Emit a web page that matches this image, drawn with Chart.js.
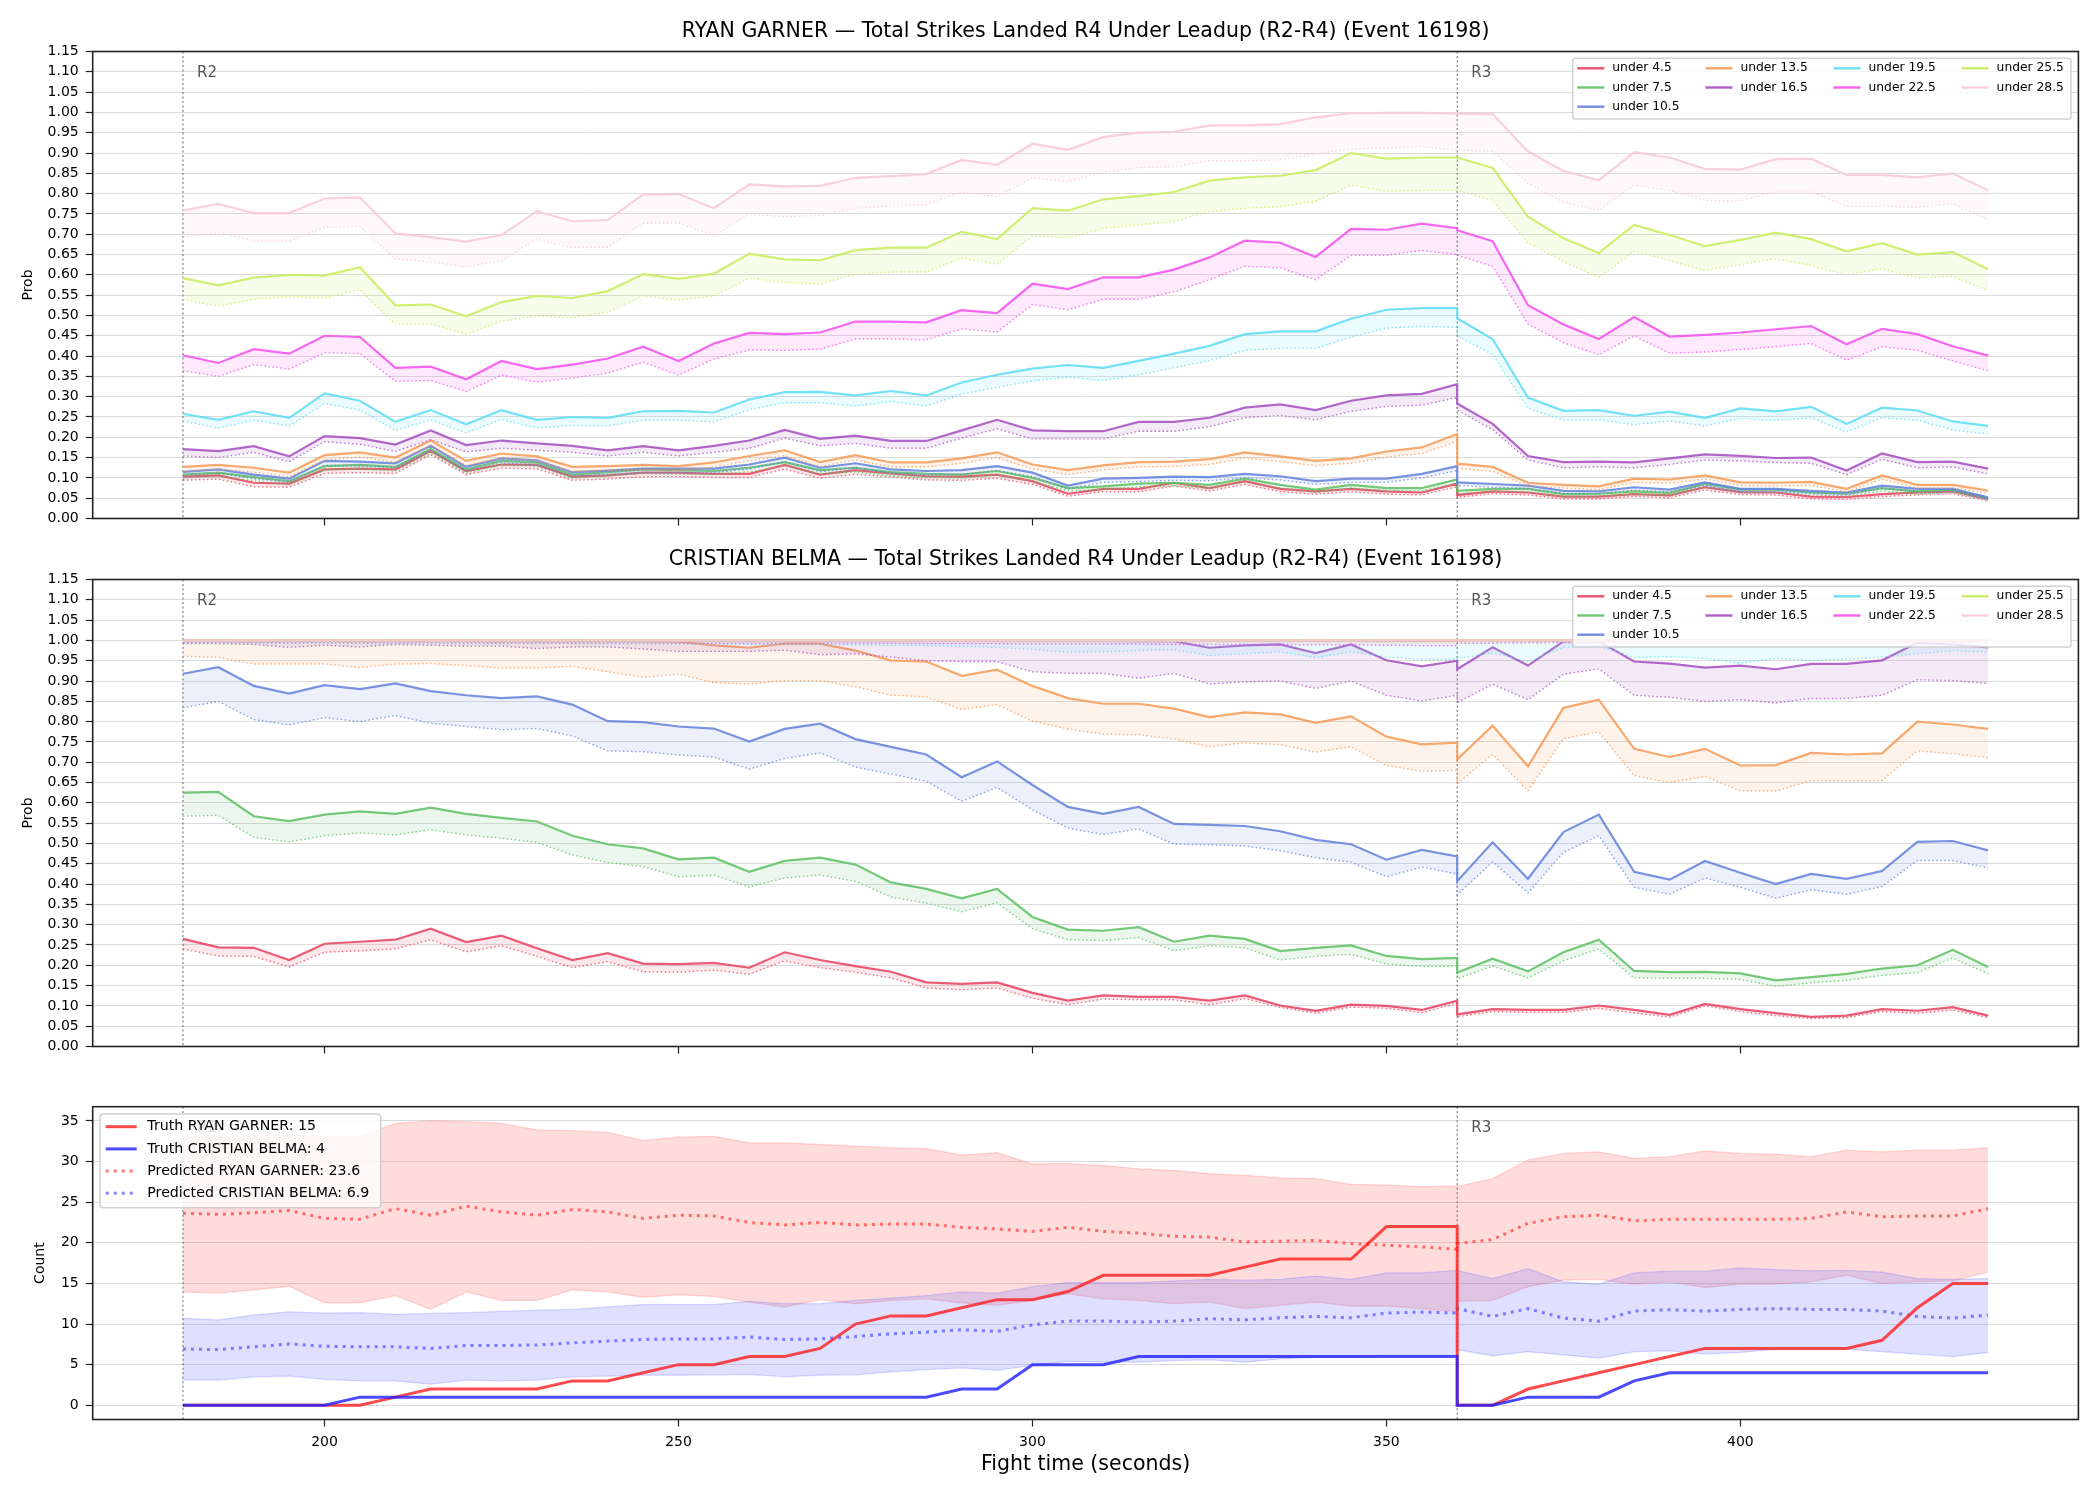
<!DOCTYPE html>
<html>
<head>
<meta charset="utf-8">
<script src="https://cdn.jsdelivr.net/npm/chart.js@4.4.1/dist/chart.umd.min.js"></script>
<style>
  html, body { margin: 0; padding: 0; background: #fff; }
  #wrap { position: relative; width: 2100px; height: 1500px; }
  #wrap canvas { position: absolute; left: 0; top: 0; }
</style>
</head>
<body>
<div id="wrap">
  <canvas id="c1" width="2100" height="1500"></canvas>
  <canvas id="c2" width="2100" height="1500"></canvas>
  <canvas id="c3" width="2100" height="1500"></canvas>
</div>
<script>
// fight time (s); R2 runs 180-360, R3 restarts at 360
var times = [180,185,190,195,200,205,210,215,220,225,230,235,240,245,250,255,260,265,270,275,280,285,290,295,300,305,310,315,320,325,330,335,340,345,350,355,360,
             360,365,370,375,380,385,390,395,400,405,410,415,420,425,430,435];
var timeTicks = [200,250,300,350,400];
var probTicks = [0,0.05,0.1,0.15,0.2,0.25,0.3,0.35,0.4,0.45,0.5,0.55,0.6,0.65,0.7,0.75,0.8,0.85,0.9,0.95,1,1.05,1.1,1.15];
var countTicks = [0,5,10,15,20,25,30,35];
var roundTimes = [180, 360];
var roundLabels = ['R2', 'R3'];

var lineNames = ['under 4.5','under 7.5','under 10.5','under 13.5','under 16.5','under 19.5','under 22.5','under 25.5','under 28.5'];
var lineColors = ['#e8405e','#5cbf60','#6280dc','#f79a56','#a44cc0','#5cdcf4','#f54ef0','#c8ec5a','#f8c8d6'];

// ---- RYAN GARNER: solid = upper, Lo = dotted lower ----
var garnerU4 = [0.103,0.106,0.088,0.086,0.121,0.123,0.121,0.167,0.117,0.133,0.132,0.103,0.106,0.113,0.113,0.110,0.110,0.132,0.108,0.119,0.111,0.104,0.103,0.108,0.092,0.061,0.073,0.073,0.088,0.075,0.092,0.073,0.067,0.073,0.067,0.064,0.086,
  0.058,0.067,0.064,0.054,0.054,0.060,0.057,0.077,0.065,0.064,0.054,0.053,0.060,0.064,0.067,0.048];
var garnerU4Lo = [0.094,0.097,0.078,0.077,0.111,0.113,0.111,0.157,0.108,0.124,0.122,0.094,0.097,0.103,0.103,0.101,0.101,0.122,0.099,0.109,0.102,0.095,0.094,0.099,0.084,0.055,0.066,0.066,0.080,0.068,0.084,0.066,0.060,0.066,0.060,0.058,0.078,
  0.052,0.061,0.058,0.048,0.048,0.054,0.051,0.070,0.059,0.058,0.048,0.047,0.054,0.058,0.061,0.043];
var garnerU7 = [0.108,0.113,0.102,0.092,0.129,0.132,0.127,0.171,0.121,0.142,0.138,0.108,0.114,0.121,0.119,0.117,0.125,0.139,0.119,0.125,0.114,0.110,0.108,0.117,0.100,0.075,0.079,0.086,0.088,0.083,0.098,0.083,0.071,0.083,0.075,0.075,0.096,
  0.068,0.073,0.073,0.060,0.061,0.067,0.063,0.085,0.071,0.071,0.064,0.061,0.075,0.067,0.071,0.050];
var garnerU7Lo = [0.099,0.104,0.093,0.083,0.119,0.122,0.117,0.160,0.112,0.132,0.128,0.099,0.105,0.111,0.109,0.108,0.115,0.129,0.110,0.115,0.105,0.101,0.099,0.107,0.091,0.068,0.071,0.078,0.080,0.075,0.089,0.075,0.064,0.075,0.068,0.068,0.087,
  0.061,0.066,0.066,0.054,0.055,0.060,0.057,0.077,0.064,0.064,0.058,0.055,0.068,0.060,0.064,0.045];
var garnerU10 = [0.115,0.121,0.108,0.098,0.142,0.140,0.136,0.179,0.127,0.148,0.143,0.114,0.118,0.123,0.123,0.123,0.133,0.150,0.125,0.136,0.121,0.117,0.119,0.129,0.113,0.081,0.098,0.100,0.103,0.102,0.110,0.104,0.092,0.098,0.098,0.110,0.129,
  0.089,0.085,0.081,0.068,0.067,0.077,0.071,0.089,0.073,0.073,0.068,0.064,0.081,0.073,0.073,0.052];
var garnerU10Lo = [0.105,0.111,0.098,0.089,0.131,0.129,0.125,0.167,0.117,0.137,0.132,0.104,0.108,0.113,0.113,0.113,0.122,0.139,0.115,0.125,0.111,0.107,0.109,0.118,0.103,0.073,0.089,0.091,0.094,0.093,0.100,0.095,0.084,0.089,0.089,0.100,0.118,
  0.081,0.077,0.074,0.062,0.061,0.070,0.065,0.081,0.066,0.066,0.062,0.058,0.074,0.066,0.066,0.047];
var garnerU13 = [0.127,0.132,0.125,0.113,0.156,0.163,0.150,0.192,0.142,0.160,0.153,0.127,0.129,0.132,0.129,0.138,0.154,0.168,0.139,0.156,0.138,0.138,0.148,0.163,0.133,0.119,0.131,0.139,0.140,0.146,0.163,0.153,0.142,0.148,0.165,0.175,0.208,
  0.135,0.127,0.088,0.083,0.079,0.098,0.096,0.106,0.089,0.088,0.090,0.073,0.106,0.083,0.083,0.069];
var garnerU13Lo = [0.116,0.121,0.114,0.103,0.144,0.151,0.139,0.179,0.131,0.148,0.141,0.116,0.118,0.121,0.118,0.127,0.142,0.155,0.128,0.144,0.127,0.127,0.136,0.150,0.122,0.108,0.120,0.127,0.128,0.133,0.149,0.140,0.130,0.136,0.151,0.160,0.190,
  0.124,0.116,0.080,0.075,0.071,0.089,0.087,0.097,0.081,0.080,0.082,0.066,0.097,0.075,0.075,0.062];
var garnerU16 = [0.171,0.166,0.178,0.153,0.203,0.198,0.182,0.217,0.181,0.192,0.185,0.179,0.168,0.178,0.168,0.179,0.192,0.218,0.196,0.204,0.191,0.191,0.217,0.243,0.217,0.215,0.215,0.238,0.238,0.248,0.273,0.281,0.267,0.290,0.303,0.307,0.331,
  0.283,0.233,0.154,0.139,0.140,0.138,0.148,0.158,0.154,0.149,0.150,0.118,0.160,0.139,0.140,0.123];
var garnerU16Lo = [0.154,0.150,0.163,0.140,0.189,0.183,0.165,0.194,0.164,0.173,0.168,0.163,0.154,0.163,0.154,0.163,0.173,0.198,0.179,0.185,0.173,0.173,0.198,0.221,0.196,0.196,0.196,0.215,0.215,0.226,0.248,0.254,0.243,0.264,0.276,0.279,0.298,
  0.267,0.219,0.144,0.125,0.127,0.125,0.133,0.144,0.142,0.138,0.136,0.108,0.146,0.125,0.127,0.110];
var garnerU19 = [0.258,0.243,0.264,0.248,0.308,0.290,0.238,0.267,0.232,0.267,0.243,0.250,0.248,0.264,0.265,0.261,0.293,0.311,0.312,0.303,0.314,0.303,0.335,0.354,0.369,0.378,0.371,0.388,0.406,0.425,0.454,0.461,0.461,0.492,0.514,0.518,0.518,
  0.493,0.442,0.298,0.265,0.267,0.253,0.263,0.248,0.271,0.264,0.275,0.233,0.273,0.266,0.239,0.228];
var garnerU19Lo = [0.240,0.223,0.242,0.228,0.283,0.267,0.217,0.243,0.211,0.244,0.223,0.229,0.228,0.242,0.242,0.238,0.268,0.285,0.285,0.277,0.288,0.277,0.306,0.323,0.339,0.348,0.340,0.354,0.371,0.389,0.414,0.419,0.419,0.446,0.469,0.473,0.471,
  0.450,0.404,0.271,0.243,0.243,0.231,0.240,0.228,0.246,0.242,0.248,0.213,0.248,0.242,0.218,0.208];
var garnerU22 = [0.402,0.383,0.417,0.406,0.450,0.447,0.371,0.374,0.343,0.388,0.368,0.379,0.394,0.423,0.388,0.431,0.457,0.454,0.458,0.485,0.485,0.483,0.513,0.506,0.578,0.565,0.594,0.594,0.613,0.643,0.684,0.679,0.644,0.713,0.711,0.726,0.715,
  0.710,0.683,0.525,0.478,0.442,0.496,0.448,0.452,0.458,0.466,0.474,0.429,0.467,0.454,0.424,0.401];
var garnerU22Lo = [0.364,0.350,0.379,0.368,0.408,0.406,0.338,0.340,0.313,0.353,0.336,0.346,0.358,0.385,0.353,0.393,0.415,0.414,0.417,0.442,0.442,0.440,0.467,0.459,0.527,0.514,0.540,0.540,0.558,0.588,0.621,0.617,0.588,0.648,0.648,0.660,0.650,
  0.648,0.621,0.479,0.433,0.403,0.450,0.407,0.410,0.416,0.423,0.431,0.390,0.423,0.414,0.388,0.364];
var garnerU25 = [0.592,0.574,0.593,0.600,0.598,0.619,0.525,0.527,0.498,0.533,0.548,0.543,0.560,0.602,0.590,0.603,0.652,0.638,0.636,0.661,0.667,0.667,0.706,0.688,0.764,0.758,0.786,0.794,0.804,0.832,0.840,0.844,0.858,0.900,0.886,0.889,0.889,
  0.889,0.863,0.743,0.690,0.654,0.723,0.698,0.671,0.686,0.704,0.688,0.658,0.678,0.650,0.656,0.614];
var garnerU25Lo = [0.539,0.523,0.540,0.546,0.543,0.563,0.478,0.479,0.454,0.485,0.499,0.494,0.508,0.548,0.538,0.548,0.592,0.581,0.578,0.601,0.607,0.607,0.641,0.626,0.696,0.691,0.714,0.723,0.732,0.756,0.764,0.768,0.781,0.821,0.806,0.808,0.808,
  0.808,0.783,0.679,0.633,0.594,0.658,0.635,0.611,0.625,0.640,0.623,0.600,0.615,0.592,0.596,0.561];
var garnerU28 = [0.758,0.775,0.752,0.752,0.788,0.791,0.702,0.693,0.682,0.698,0.757,0.732,0.735,0.798,0.799,0.764,0.823,0.818,0.819,0.839,0.843,0.848,0.883,0.871,0.923,0.908,0.939,0.950,0.952,0.968,0.968,0.971,0.988,0.998,0.999,0.999,0.997,
  0.997,0.996,0.904,0.856,0.833,0.902,0.889,0.861,0.859,0.885,0.886,0.846,0.846,0.840,0.850,0.808];
var garnerU28Lo = [0.692,0.704,0.683,0.683,0.717,0.719,0.639,0.632,0.619,0.635,0.688,0.667,0.668,0.727,0.728,0.696,0.749,0.743,0.746,0.764,0.769,0.773,0.803,0.792,0.839,0.829,0.853,0.864,0.866,0.881,0.881,0.883,0.898,0.910,0.912,0.916,0.907,
  0.907,0.904,0.825,0.779,0.758,0.821,0.808,0.783,0.782,0.804,0.804,0.769,0.769,0.766,0.775,0.736];

// ---- CRISTIAN BELMA ----
var belmaU4 = [0.265,0.244,0.243,0.213,0.253,0.258,0.263,0.290,0.257,0.273,0.242,0.213,0.230,0.204,0.203,0.206,0.194,0.232,0.213,0.198,0.184,0.158,0.154,0.158,0.132,0.113,0.126,0.122,0.122,0.113,0.126,0.101,0.088,0.103,0.100,0.090,0.113,
  0.079,0.092,0.090,0.090,0.101,0.090,0.078,0.105,0.092,0.082,0.073,0.076,0.092,0.088,0.097,0.076];
var belmaU4Lo = [0.240,0.223,0.222,0.196,0.232,0.236,0.240,0.263,0.233,0.248,0.222,0.194,0.209,0.184,0.183,0.188,0.178,0.211,0.194,0.183,0.169,0.144,0.140,0.144,0.119,0.103,0.117,0.115,0.115,0.103,0.118,0.096,0.082,0.097,0.094,0.083,0.107,
  0.073,0.086,0.084,0.084,0.094,0.083,0.072,0.100,0.086,0.076,0.069,0.071,0.086,0.082,0.090,0.071];
var belmaU7 = [0.625,0.627,0.567,0.555,0.571,0.579,0.573,0.588,0.573,0.563,0.554,0.519,0.498,0.488,0.461,0.465,0.430,0.457,0.465,0.448,0.404,0.388,0.365,0.388,0.319,0.288,0.285,0.294,0.258,0.273,0.265,0.235,0.243,0.249,0.223,0.215,0.218,
  0.182,0.216,0.185,0.232,0.263,0.186,0.183,0.184,0.180,0.163,0.171,0.179,0.192,0.200,0.238,0.196];
var belmaU7Lo = [0.567,0.569,0.515,0.504,0.519,0.526,0.521,0.534,0.521,0.513,0.503,0.472,0.453,0.443,0.418,0.422,0.393,0.415,0.422,0.407,0.368,0.353,0.332,0.354,0.290,0.263,0.261,0.268,0.236,0.248,0.243,0.213,0.222,0.227,0.203,0.197,0.198,
  0.167,0.198,0.169,0.211,0.240,0.169,0.168,0.168,0.165,0.148,0.157,0.163,0.175,0.182,0.218,0.179];
var belmaU10 = [0.918,0.934,0.888,0.869,0.890,0.880,0.894,0.875,0.865,0.858,0.862,0.842,0.801,0.799,0.788,0.783,0.751,0.782,0.795,0.757,0.738,0.719,0.663,0.702,0.644,0.590,0.573,0.590,0.548,0.546,0.543,0.530,0.509,0.498,0.460,0.484,0.468,
  0.407,0.503,0.413,0.528,0.571,0.430,0.411,0.457,0.428,0.400,0.425,0.413,0.432,0.504,0.506,0.483];
var belmaU10Lo = [0.834,0.850,0.805,0.792,0.810,0.800,0.815,0.796,0.788,0.780,0.783,0.765,0.728,0.726,0.718,0.713,0.683,0.709,0.723,0.688,0.671,0.653,0.604,0.638,0.583,0.538,0.522,0.536,0.498,0.497,0.494,0.482,0.465,0.454,0.418,0.442,0.425,
  0.373,0.455,0.378,0.478,0.519,0.392,0.375,0.415,0.392,0.365,0.386,0.375,0.394,0.458,0.458,0.440];
var belmaU13 = [0.999,0.999,0.998,0.999,0.999,0.998,0.999,0.999,0.999,0.998,0.998,0.999,0.998,0.998,0.997,0.988,0.982,0.992,0.992,0.975,0.951,0.948,0.913,0.928,0.888,0.858,0.844,0.844,0.832,0.811,0.823,0.818,0.797,0.813,0.763,0.744,0.748,
  0.707,0.790,0.690,0.834,0.854,0.733,0.713,0.733,0.692,0.693,0.723,0.719,0.722,0.800,0.793,0.782];
var belmaU13Lo = [0.961,0.958,0.942,0.942,0.942,0.933,0.942,0.943,0.938,0.932,0.932,0.936,0.923,0.909,0.917,0.896,0.893,0.901,0.901,0.886,0.865,0.861,0.830,0.842,0.801,0.782,0.769,0.768,0.757,0.738,0.748,0.743,0.725,0.738,0.692,0.678,0.680,
  0.647,0.719,0.630,0.758,0.775,0.667,0.650,0.665,0.630,0.629,0.655,0.654,0.655,0.728,0.721,0.711];
var belmaU16 = [0.999,0.999,0.999,0.999,0.999,0.999,0.999,0.999,0.999,0.999,0.999,0.999,0.999,0.999,0.999,0.999,0.999,0.999,0.999,0.999,0.999,0.999,0.999,0.999,0.999,0.999,0.999,0.998,0.998,0.982,0.988,0.990,0.969,0.990,0.951,0.936,0.950,
  0.929,0.983,0.938,0.998,0.998,0.948,0.943,0.933,0.938,0.929,0.942,0.942,0.951,0.994,0.990,0.983];
var belmaU16Lo = [0.992,0.992,0.990,0.983,0.988,0.984,0.990,0.988,0.986,0.986,0.980,0.984,0.984,0.979,0.973,0.973,0.973,0.976,0.965,0.967,0.959,0.950,0.948,0.948,0.923,0.919,0.919,0.907,0.919,0.893,0.898,0.900,0.882,0.900,0.865,0.851,0.865,
  0.847,0.892,0.854,0.917,0.930,0.865,0.860,0.850,0.854,0.846,0.857,0.857,0.865,0.903,0.901,0.894];
var belmaU19 = [0.999,0.999,0.999,0.999,0.999,0.999,0.999,0.999,0.999,0.999,0.999,0.999,0.999,0.999,0.999,0.999,0.999,0.999,0.999,0.999,0.999,0.999,0.999,0.999,0.999,0.999,0.999,0.999,0.999,0.999,0.999,0.999,0.999,0.999,0.999,0.999,0.999,
  0.999,0.999,0.999,0.999,0.999,0.999,0.999,0.999,0.999,0.999,0.999,0.999,0.999,0.999,0.999,0.999];
var belmaU19Lo = [0.993,0.993,0.993,0.993,0.993,0.992,0.993,0.992,0.992,0.992,0.992,0.992,0.991,0.991,0.991,0.991,0.990,0.990,0.990,0.989,0.988,0.987,0.985,0.983,0.978,0.971,0.972,0.975,0.977,0.963,0.967,0.972,0.958,0.972,0.959,0.953,0.953,
  0.955,0.969,0.948,0.983,0.986,0.958,0.960,0.956,0.944,0.956,0.950,0.954,0.959,0.967,0.975,0.971];
var belmaU22 = [1.000,1.000,1.000,1.000,1.000,1.000,1.000,1.000,1.000,1.000,1.000,1.000,1.000,1.000,1.000,1.000,1.000,1.000,1.000,1.000,1.000,1.000,1.000,1.000,1.000,1.000,1.000,1.000,1.000,1.000,1.000,1.000,0.999,1.000,0.999,0.999,0.999,
  1.000,1.000,1.000,1.000,1.000,1.000,1.000,1.000,1.000,1.000,1.000,1.000,1.000,1.000,1.000,1.000];
var belmaU22Lo = [0.995,0.995,0.995,0.994,0.995,0.995,0.995,0.995,0.995,0.994,0.994,0.994,0.994,0.994,0.993,0.993,0.993,0.993,0.993,0.993,0.993,0.992,0.992,0.992,0.991,0.991,0.991,0.991,0.990,0.990,0.990,0.990,0.989,0.989,0.988,0.987,0.987,
  0.993,0.993,0.994,0.995,0.995,0.994,0.994,0.994,0.994,0.994,0.994,0.994,0.994,0.995,0.995,0.995];
var belmaU25 = [1.000,1.000,1.000,1.000,1.000,1.000,1.000,1.000,1.000,1.000,1.000,1.000,1.000,1.000,1.000,1.000,1.000,1.000,1.000,1.000,1.000,1.000,1.000,1.000,1.000,1.000,1.000,1.000,1.000,1.000,1.000,1.000,1.000,1.000,1.000,1.000,1.000,
  1.000,1.000,1.000,1.000,1.000,1.000,1.000,1.000,1.000,1.000,1.000,1.000,1.000,1.000,1.000,1.000];
var belmaU25Lo = [0.997,0.997,0.997,0.997,0.997,0.997,0.997,0.997,0.997,0.997,0.997,0.997,0.997,0.997,0.997,0.997,0.997,0.997,0.997,0.997,0.997,0.997,0.997,0.996,0.996,0.996,0.996,0.996,0.996,0.996,0.996,0.996,0.996,0.996,0.995,0.995,0.995,
  0.997,0.997,0.997,0.998,0.998,0.997,0.997,0.997,0.997,0.997,0.997,0.997,0.997,0.997,0.998,0.998];
var belmaU28 = [1.000,1.000,1.000,1.000,1.000,1.000,1.000,1.000,1.000,1.000,1.000,1.000,1.000,1.000,1.000,1.000,1.000,1.000,1.000,1.000,1.000,1.000,1.000,1.000,1.000,1.000,1.000,1.000,1.000,1.000,1.000,1.000,1.000,1.000,1.000,1.000,1.000,
  1.000,1.000,1.000,1.000,1.000,1.000,1.000,1.000,1.000,1.000,1.000,1.000,1.000,1.000,1.000,1.000];
var belmaU28Lo = [0.998,0.998,0.998,0.998,0.998,0.998,0.998,0.998,0.998,0.998,0.998,0.998,0.998,0.998,0.998,0.998,0.998,0.998,0.998,0.998,0.998,0.998,0.998,0.998,0.998,0.998,0.998,0.998,0.998,0.998,0.998,0.998,0.998,0.998,0.998,0.997,0.997,
  0.998,0.998,0.998,0.999,0.999,0.998,0.998,0.998,0.998,0.998,0.998,0.998,0.998,0.998,0.999,0.999];

// ---- counts ----
var truthGarner = [0,0,0,0,0,0,1,2,2,2,2,3,3,4,5,5,6,6,7,10,11,11,12,13,13,14,16,16,16,16,17,18,18,18,22,22,22,
  0,0,2,3,4,5,6,7,7,7,7,7,8,12,15,15];
var truthBelma = [0,0,0,0,0,1,1,1,1,1,1,1,1,1,1,1,1,1,1,1,1,1,2,2,5,5,5,6,6,6,6,6,6,6,6,6,6,
  0,0,1,1,1,3,4,4,4,4,4,4,4,4,4,4];
var predGarner = [23.65,23.5,23.7,23.98,23.0,22.9,24.2,23.4,24.5,23.8,23.4,24.1,23.8,23.0,23.4,23.3,22.5,22.2,22.5,22.2,22.3,22.3,21.9,21.7,21.4,21.9,21.4,21.2,20.8,20.7,20.1,20.2,20.3,19.9,19.7,19.5,19.2,
  19.9,20.4,22.4,23.2,23.4,22.7,22.9,22.9,22.9,22.9,23.0,23.8,23.2,23.3,23.3,24.2];
var garnerHigh = [33.0,33.1,33.2,33.3,33.1,33.1,34.7,35.0,34.9,34.7,33.9,33.8,33.6,32.6,33.0,33.1,32.3,32.3,32.1,31.9,31.7,31.6,30.8,31.1,29.7,29.75,29.5,29.1,28.9,28.5,28.3,28.0,27.9,27.2,27.1,26.9,27.0,
  26.9,27.9,30.2,31.0,31.2,30.4,30.6,31.3,31.0,30.9,30.6,31.4,31.2,31.4,31.4,31.7];
var garnerLow = [13.95,13.8,14.2,14.65,12.6,12.6,13.5,11.8,13.95,12.9,12.9,14.2,13.95,13.3,13.6,13.4,12.7,12.1,13.0,12.5,12.9,13.1,12.6,12.3,12.9,13.7,13.1,12.9,12.5,12.7,11.9,12.3,12.7,12.2,12.2,11.9,11.5,
  12.8,12.9,14.6,15.4,15.5,14.9,15.2,14.5,14.9,14.9,15.2,16.0,15.0,15.2,15.3,16.4];
var predBelma = [6.93,6.85,7.2,7.55,7.26,7.2,7.2,7.0,7.35,7.35,7.43,7.68,7.9,8.1,8.17,8.17,8.4,8.1,8.17,8.46,8.8,9.0,9.3,9.1,9.9,10.36,10.36,10.23,10.36,10.65,10.52,10.77,10.94,10.77,11.35,11.47,11.35,
  11.9,10.94,11.9,10.73,10.36,11.6,11.76,11.6,11.8,11.9,11.8,11.8,11.6,10.94,10.73,11.1];
var belmaHigh = [10.7,10.5,11.1,11.5,11.35,11.4,11.2,11.3,11.4,11.55,11.7,11.8,12.1,12.4,12.4,12.4,12.8,12.5,12.5,12.9,13.2,13.5,13.95,13.8,14.6,15.1,15.1,15.1,15.3,15.5,15.4,15.5,15.9,15.5,16.3,16.3,16.6,
  16.6,15.6,16.8,15.2,14.9,16.3,16.5,16.5,16.9,16.7,16.55,16.6,16.4,15.6,15.5,15.6];
var belmaLow = [3.1,3.1,3.5,3.6,3.2,3.0,3.0,2.6,3.1,3.0,3.1,3.5,3.6,3.7,3.7,3.75,3.8,3.5,3.7,3.75,4.1,4.4,4.6,4.3,4.9,5.4,5.3,5.3,5.5,5.6,5.3,5.7,5.9,5.9,6.1,6.1,6.1,
  6.85,6.1,6.6,6.2,5.8,6.6,6.7,6.3,6.5,6.9,6.9,6.9,6.6,6.3,6.0,6.5];

var countLegend = ['Truth RYAN GARNER: 15', 'Truth CRISTIAN BELMA: 4', 'Predicted RYAN GARNER: 23.6', 'Predicted CRISTIAN BELMA: 6.9'];

Chart.defaults.font.family = '"DejaVu Sans", sans-serif';
Chart.defaults.color = '#000';

function rgba(hex, a) {
  var n = parseInt(hex.slice(1), 16);
  return 'rgba(' + ((n >> 16) & 255) + ',' + ((n >> 8) & 255) + ',' + (n & 255) + ',' + a + ')';
}

function pts(vals) {
  return times.map(function(t, i) { return { x: t, y: vals[i] }; });
}

function probDatasets(upper, lower) {
  var ds = [];
  for (var k = 0; k < upper.length; k++) {
    var base = (upper.length - 1 - k) * 2;
    ds.push({
      label: lineNames[k] + ' model', data: pts(lower[k]),
      borderColor: rgba(lineColors[k], 0.75), borderWidth: 1.4, borderDash: [1.5, 2.5],
      pointRadius: 0, fill: false, order: base + 1
    });
    ds.push({
      label: lineNames[k], data: pts(upper[k]),
      borderColor: rgba(lineColors[k], 0.85), borderWidth: 2.2,
      backgroundColor: rgba(lineColors[k], 0.12), fill: ds.length - 1,
      pointRadius: 0, order: base
    });
  }
  return ds;
}

function roundRect(ctx, x, y, w, h, r) {
  ctx.beginPath();
  ctx.moveTo(x + r, y);
  ctx.lineTo(x + w - r, y); ctx.arcTo(x + w, y, x + w, y + r, r);
  ctx.lineTo(x + w, y + h - r); ctx.arcTo(x + w, y + h, x + w - r, y + h, r);
  ctx.lineTo(x + r, y + h); ctx.arcTo(x, y + h, x, y + h - r, r);
  ctx.lineTo(x, y + r); ctx.arcTo(x, y, x + r, y, r);
  ctx.closePath();
}

function makeDeco(opts) {
  return {
    id: 'deco',
    beforeDatasetsDraw: function(chart) {
      var ctx = chart.ctx, area = chart.chartArea, xs = chart.scales.x;
      ctx.save();
      for (var i = 0; i < roundTimes.length; i++) {
        var px = xs.getPixelForValue(roundTimes[i]);
        ctx.strokeStyle = 'rgba(70,70,70,0.85)';
        ctx.lineWidth = 1;
        ctx.setLineDash([2, 2.5]);
        ctx.beginPath(); ctx.moveTo(px, area.top); ctx.lineTo(px, area.bottom); ctx.stroke();
        ctx.setLineDash([]);
        ctx.fillStyle = '#555';
        ctx.font = '15px "DejaVu Sans"';
        ctx.textAlign = 'left'; ctx.textBaseline = 'middle';
        ctx.fillText(roundLabels[i], px + 14, area.top + 21.5);
      }
      ctx.restore();
    },
    afterDatasetsDraw: function(chart) {
      var ctx = chart.ctx, area = chart.chartArea;
      ctx.save();
      ctx.strokeStyle = '#222'; ctx.lineWidth = 1.6;
      ctx.strokeRect(area.left, area.top, area.right - area.left, area.bottom - area.top);

      if (opts.title) {
        ctx.fillStyle = '#000';
        ctx.font = '20.5px "DejaVu Sans"';
        ctx.textAlign = 'center'; ctx.textBaseline = 'middle';
        ctx.fillText(opts.title, (area.left + area.right) / 2, area.top - 19.7);
      }

      var lg = opts.legend;
      roundRect(ctx, lg.x, area.top + lg.dy, lg.w, lg.h, 3);
      ctx.fillStyle = 'rgba(255,255,255,0.8)'; ctx.fill();
      ctx.strokeStyle = 'rgba(204,204,204,0.9)'; ctx.lineWidth = 1.5; ctx.stroke();
      ctx.font = lg.font + 'px "DejaVu Sans"';
      ctx.textAlign = 'left'; ctx.textBaseline = 'middle';
      lg.items.forEach(function(it) {
        var y = area.top + it.dy;
        ctx.strokeStyle = it.color; ctx.lineWidth = it.width;
        ctx.setLineDash(it.dash || []);
        ctx.beginPath(); ctx.moveTo(it.x, y); ctx.lineTo(it.x + lg.lineLen, y); ctx.stroke();
        ctx.setLineDash([]);
        ctx.fillStyle = '#000';
        ctx.fillText(it.text, it.x + lg.textGap, y);
      });
      ctx.restore();
    }
  };
}

var legendCol = [0, 0, 0, 1, 1, 2, 2, 3, 3];
var legendRow = [0, 1, 2, 0, 1, 0, 1, 0, 1];
function probLegend() {
  return {
    x: 1572.7, dy: 6.8, w: 498.3, h: 60.7, font: 12.3, lineLen: 27, textGap: 35,
    items: lineNames.map(function(n, k) {
      return { text: n, color: rgba(lineColors[k], 0.9), width: 2.4,
               x: 1577.3 + legendCol[k] * 128.1, dy: 16.8 + legendRow[k] * 19.2 };
    })
  };
}

function xScale(showLabels) {
  return {
    type: 'linear', min: 167.25, max: 447.75,
    afterBuildTicks: function(s) { s.ticks = timeTicks.map(function(v) { return { value: v }; }); },
    afterFit: function(s) { s.height = showLabels ? 60 : 20; },
    grid: { display: true, drawOnChartArea: false, drawTicks: true, tickLength: 7, tickColor: '#222', tickWidth: 1.2 },
    border: { display: false },
    ticks: { display: showLabels, padding: 7, font: { size: 14 }, color: '#000', autoSkip: false, maxRotation: 0 },
    title: showLabels ? { display: true, text: 'Fight time (seconds)', font: { size: 20.5 }, color: '#000', padding: { top: 0, bottom: 2.2 } } : { display: false }
  };
}

function yScale(min, max, tickVals, decimals, title, titlePad) {
  return {
    type: 'linear', min: min, max: max,
    afterBuildTicks: function(s) { s.ticks = tickVals.map(function(v) { return { value: v }; }); },
    afterFit: function(s) { s.width = 92.7; },
    grid: { color: '#dcdcdc', lineWidth: 1, drawTicks: true, tickLength: 7, tickColor: '#222', tickWidth: 1.2 },
    border: { display: false },
    ticks: { padding: 7, font: { size: 14 }, color: '#000', autoSkip: false,
             callback: function(v) { return Number(v).toFixed(decimals); } },
    title: { display: true, text: title, font: { size: 14 }, color: '#000', padding: { top: titlePad, bottom: 0 } }
  };
}

function probChart(id, title, upper, lower, top, bottom) {
  return new Chart(document.getElementById(id), {
    type: 'line',
    data: { datasets: probDatasets(upper, lower) },
    options: {
      responsive: false, animation: false, events: [],
      layout: { autoPadding: false, padding: { left: 0, right: 21.6, top: top, bottom: 1500 - bottom - 20 } },
      plugins: { legend: { display: false }, tooltip: { enabled: false } },
      elements: { line: { tension: 0, borderCapStyle: 'butt' } },
      scales: { x: xScale(false), y: yScale(0, 1.15, probTicks, 2, 'Prob', 19.6) }
    },
    plugins: [makeDeco({ title: title, legend: probLegend() })]
  });
}

probChart('c1', 'RYAN GARNER \u2014 Total Strikes Landed R4 Under Leadup (R2-R4) (Event 16198)',
  [garnerU4, garnerU7, garnerU10, garnerU13, garnerU16, garnerU19, garnerU22, garnerU25, garnerU28],
  [garnerU4Lo, garnerU7Lo, garnerU10Lo, garnerU13Lo, garnerU16Lo, garnerU19Lo, garnerU22Lo, garnerU25Lo, garnerU28Lo],
  51.5, 518.5);

probChart('c2', 'CRISTIAN BELMA \u2014 Total Strikes Landed R4 Under Leadup (R2-R4) (Event 16198)',
  [belmaU4, belmaU7, belmaU10, belmaU13, belmaU16, belmaU19, belmaU22, belmaU25, belmaU28],
  [belmaU4Lo, belmaU7Lo, belmaU10Lo, belmaU13Lo, belmaU16Lo, belmaU19Lo, belmaU22Lo, belmaU25Lo, belmaU28Lo],
  579.5, 1046.5);

var redLine = 'rgba(255,30,30,0.8)', blueLine = 'rgba(30,30,255,0.8)';
var redDot = 'rgba(255,60,60,0.7)', blueDot = 'rgba(70,70,255,0.65)';

new Chart(document.getElementById('c3'), {
  type: 'line',
  data: {
    datasets: [
      { label: countLegend[1], data: pts(truthBelma), borderColor: blueLine, borderWidth: 3, pointRadius: 0, fill: false },
      { label: countLegend[0], data: pts(truthGarner), borderColor: redLine, borderWidth: 3, pointRadius: 0, fill: false },
      { label: countLegend[3], data: pts(predBelma), borderColor: blueDot, borderWidth: 3, borderDash: [3, 5], pointRadius: 0, fill: false },
      { label: countLegend[2], data: pts(predGarner), borderColor: redDot, borderWidth: 3, borderDash: [3, 5], pointRadius: 0, fill: false },
      { label: 'belma high', data: pts(belmaHigh), borderColor: 'rgba(90,90,255,0.22)', borderWidth: 1.3, backgroundColor: 'rgba(80,80,255,0.18)', pointRadius: 0, fill: 5 },
      { label: 'belma low', data: pts(belmaLow), borderColor: 'rgba(90,90,255,0.22)', borderWidth: 1.3, pointRadius: 0, fill: false },
      { label: 'garner high', data: pts(garnerHigh), borderColor: 'rgba(255,90,90,0.22)', borderWidth: 1.3, backgroundColor: 'rgba(255,80,80,0.2)', pointRadius: 0, fill: 7 },
      { label: 'garner low', data: pts(garnerLow), borderColor: 'rgba(255,90,90,0.22)', borderWidth: 1.3, pointRadius: 0, fill: false }
    ]
  },
  options: {
    responsive: false, animation: false, events: [],
    layout: { autoPadding: false, padding: { left: 0, right: 21.6, top: 1106.7, bottom: 1500 - 1419.5 - 60 } },
    plugins: { legend: { display: false }, tooltip: { enabled: false } },
    elements: { line: { tension: 0, borderCapStyle: 'butt' } },
    scales: { x: xScale(true), y: yScale(-1.75, 36.75, countTicks, 0, 'Count', 31.6) }
  },
  plugins: [makeDeco({
    title: null,
    legend: {
      x: 100, dy: 7.3, w: 280.7, h: 93.7, font: 14.2, lineLen: 31, textGap: 41.6,
      items: [
        { text: countLegend[0], color: redLine, width: 3, x: 105.7, dy: 20 },
        { text: countLegend[1], color: blueLine, width: 3, x: 105.7, dy: 42.2 },
        { text: countLegend[2], color: redDot, width: 3, dash: [3, 5], x: 105.7, dy: 64.4 },
        { text: countLegend[3], color: blueDot, width: 3, dash: [3, 5], x: 105.7, dy: 86.6 }
      ]
    }
  })]
});
</script>
</body>
</html>
